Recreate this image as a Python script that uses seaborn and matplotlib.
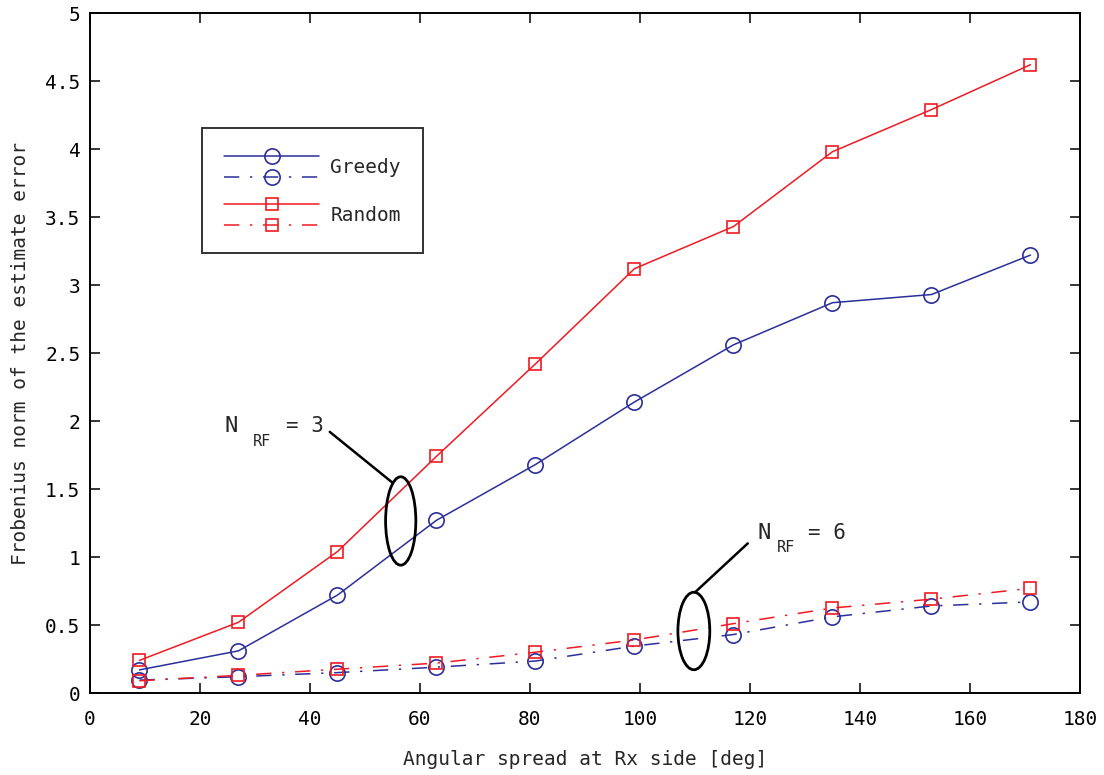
import numpy as np
import pandas as pd
import matplotlib
matplotlib.use("Agg")
import matplotlib.pyplot as plt
import seaborn as sns
from matplotlib.lines import Line2D
from matplotlib.patches import Ellipse
from matplotlib.legend_handler import HandlerBase

# Angular spread at the receiver [deg]
spread = [9, 27, 45, 63, 81, 99, 117, 135, 153, 171]

# Frobenius norm of the estimation error
greedy_nrf3 = [0.17, 0.31, 0.72, 1.27, 1.68, 2.14, 2.56, 2.87, 2.93, 3.22]
random_nrf3 = [0.24, 0.52, 1.04, 1.74, 2.42, 3.12, 3.43, 3.98, 4.29, 4.62]
greedy_nrf6 = [0.095, 0.12, 0.15, 0.19, 0.235, 0.345, 0.43, 0.56, 0.64, 0.67]
random_nrf6 = [0.09, 0.13, 0.175, 0.22, 0.30, 0.39, 0.51, 0.625, 0.69, 0.77]

x_ticks = [0, 20, 40, 60, 80, 100, 120, 140, 160, 180]
y_ticks = [0, 0.5, 1, 1.5, 2, 2.5, 3, 3.5, 4, 4.5, 5]
y_tick_labels = ["0", "0.5", "1", "1.5", "2", "2.5", "3", "3.5", "4", "4.5", "5"]

BLUE = "#2b2f9a"
RED = "#f01a22"
DASHDOT = (0, (10, 7, 1.5, 7))

sns.set_theme(style="white")
plt.rcParams["font.family"] = ["DejaVu Sans Mono", "DejaVu Sans"]

fig = plt.figure(figsize=(11.04, 7.75), dpi=100)
ax = fig.add_axes([0.0815, 0.1058, 0.8967, 0.8774])

series = [
    (greedy_nrf3, BLUE, "-", "o", 11),
    (greedy_nrf6, BLUE, DASHDOT, "o", 11),
    (random_nrf3, RED, "-", "s", 9),
    (random_nrf6, RED, DASHDOT, "s", 9),
]
for vals, col, ls, mk, ms in series:
    df = pd.DataFrame({"x": spread, "y": vals})
    sns.lineplot(data=df, x="x", y="y", ax=ax, color=col, linestyle=ls,
                 linewidth=1.1, marker=mk, markersize=ms,
                 markerfacecolor="none", markeredgecolor=col,
                 markeredgewidth=1.2, legend=False)

lines = ax.get_lines()

ax.set_xlim(0, 180)
ax.set_ylim(0, 5)
ax.set_xticks(x_ticks)
ax.set_yticks(y_ticks)
ax.set_yticklabels(y_tick_labels)
ax.tick_params(axis="x", pad=12)
ax.tick_params(axis="y", pad=7)
ax.tick_params(direction="in", length=7, width=1.1, labelsize=14,
               top=True, right=True, bottom=True, left=True, colors="black")
for sp in ax.spines.values():
    sp.set_visible(True)
    sp.set_color("black")
    sp.set_linewidth(1.4)
ax.grid(False)
ax.set_xlabel("Angular spread at Rx side [deg]", fontsize=14, labelpad=15)
ax.set_ylabel("Frobenius norm of the estimate error", fontsize=14, labelpad=11)


class StackedPair(HandlerBase):
    """Draw a (solid, dash-dot) pair of line samples one above the other."""

    def create_artists(self, legend, orig_handle, xdescent, ydescent,
                       width, height, fontsize, trans):
        artists = []
        yc0 = height / 2 - ydescent
        offsets = [0.54 * fontsize, -0.54 * fontsize]
        for i, h in enumerate(orig_handle):
            yc = yc0 + offsets[i]
            ln = Line2D([-xdescent, width - xdescent], [yc, yc],
                        color=h.get_color(), linewidth=h.get_linewidth(),
                        linestyle="-" if i == 0 else DASHDOT)
            mk = Line2D([width / 2 - xdescent], [yc], linestyle="none",
                        marker=h.get_marker(), markersize=h.get_markersize(),
                        markerfacecolor="none",
                        markeredgecolor=h.get_markeredgecolor(),
                        markeredgewidth=h.get_markeredgewidth())
            for a in (ln, mk):
                a.set_transform(trans)
                artists.append(a)
        return artists


pairs = [(lines[0], lines[1]), (lines[2], lines[3])]
leg = ax.legend(pairs, ["Greedy", "Random"],
                handler_map={tuple: StackedPair()},
                loc="upper left", bbox_to_anchor=(0.113, 0.831),
                borderaxespad=0, fontsize=14, handlelength=4.9,
                handleheight=2.2, labelspacing=0.8, handletextpad=0.55,
                borderpad=1.15, fancybox=False, frameon=True)
leg.get_frame().set_edgecolor("black")
leg.get_frame().set_linewidth(1.4)

# N_RF = 3 group marker
ax.add_patch(Ellipse((56.5, 1.265), 5.5, 0.65, fill=False,
                     edgecolor="black", linewidth=2.0, zorder=5))
ax.plot([43.6, 54.9], [1.92, 1.55], color="black", linewidth=1.8, zorder=5)
ax.text(24.5, 1.96, "N", fontsize=16, ha="left", va="center")
ax.text(29.6, 1.85, "RF", fontsize=11, ha="left", va="center")
ax.text(35.7, 1.96, "= 3", fontsize=15, ha="left", va="center")

# N_RF = 6 group marker
ax.add_patch(Ellipse((109.8, 0.456), 5.8, 0.57, fill=False,
                     edgecolor="black", linewidth=2.0, zorder=5))
ax.plot([110.0, 119.6], [0.74, 1.10], color="black", linewidth=1.8, zorder=5)
ax.text(121.3, 1.18, "N", fontsize=16, ha="left", va="center")
ax.text(124.9, 1.07, "RF", fontsize=11, ha="left", va="center")
ax.text(130.5, 1.18, "= 6", fontsize=15, ha="left", va="center")

fig.savefig("out.png", dpi=100, facecolor="white")
